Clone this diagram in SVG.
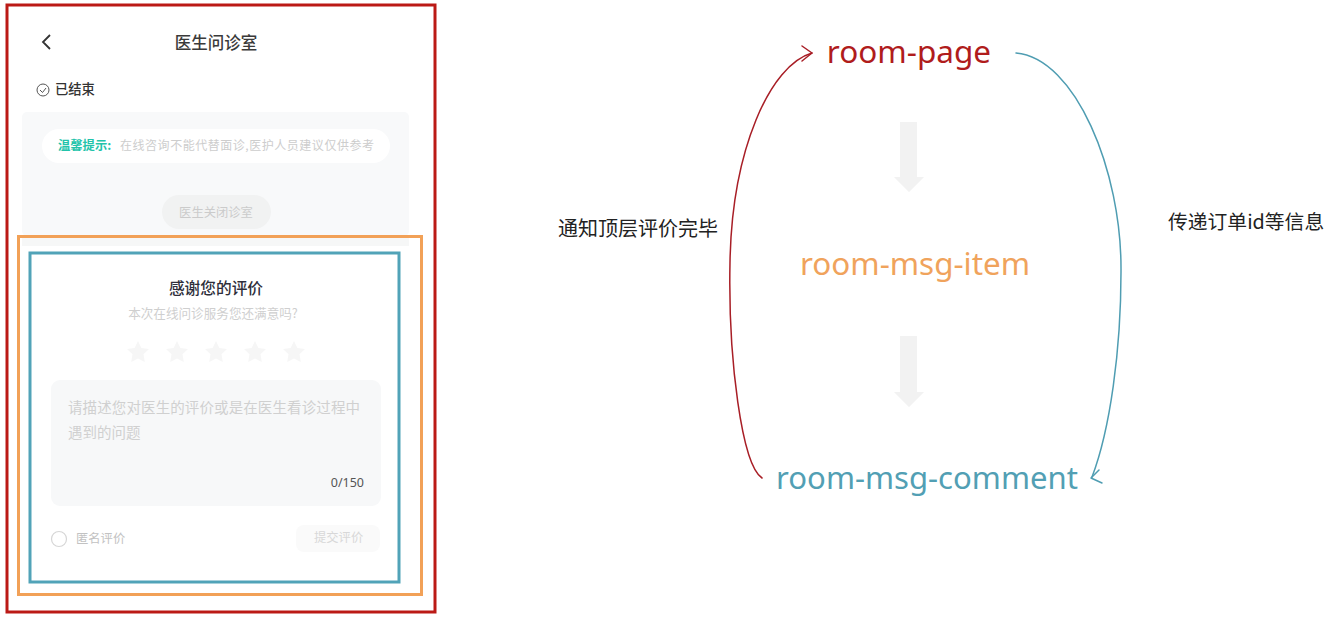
<svg xmlns="http://www.w3.org/2000/svg" width="1337" height="622" viewBox="0 0 1337 622">
<style>
text{font-family:"Noto Sans CJK SC","Noto Sans",sans-serif}
.lat{font-family:"Noto Sans","Noto Sans CJK SC",sans-serif}
.m{text-anchor:middle}
.c{fill:none;stroke-width:1.500;stroke-linecap:round;stroke-linejoin:round}
.g{fill:#f2f2f2}
.st{fill:#f6f6f6}
.s{fill:#f7f8f9}
</style>
<rect width="1337" height="622" fill="#fff"/>
<g id="phone">
<rect x="22" y="112" width="387" height="124" rx="5" fill="#f8f9fa"/>
<rect x="42" y="129" width="348" height="34" rx="17" fill="#fff"/>
<rect x="162" y="195" width="109" height="34" rx="17" fill="#f1f2f2"/>
<rect x="22" y="236" width="387" height="10" fill="#f6f7f7"/>
<path d="M50 35 L43 42 L50 49" fill="none" stroke="#333" stroke-width="1.800"/>
<text x="216" y="48.500" class="m" font-size="16.500" font-weight="500" fill="#3a3a3a">医生问诊室</text>
<circle cx="43" cy="90" r="6" fill="none" stroke="#555" stroke-width="1"/>
<path d="M40 90 L42.500 92.500 L46 88" fill="none" stroke="#555" stroke-width="1"/>
<text x="55" y="94" font-size="13.300" font-weight="500" fill="#333">已结束</text>
<text x="58" y="150" font-size="12.300" font-weight="700" fill="#22c3aa">温馨提示:</text>
<text x="120" y="150" font-size="12" fill="#cdcdcd" textLength="254">在线咨询不能代替面诊,医护人员建议仅供参考</text>
<text x="216" y="217" class="m" font-size="12.300" fill="#cbcbcb">医生关闭诊室</text>
<text x="216" y="293.500" class="m" font-size="15.700" font-weight="500" fill="#2e2e3a">感谢您的评价</text>
<text x="213" y="318" class="m" font-size="12.600" fill="#cfcfcf">本次在线问诊服务您还满意吗?</text>
<g class="st">
<path d="M138 341 l3.400 7 7.600 1 -5.500 5.300 1.300 7.700 -6.800 -3.600 -6.800 3.600 1.300 -7.700 -5.500 -5.300 7.600 -1z"/>
<path d="M177 341 l3.400 7 7.600 1 -5.500 5.300 1.300 7.700 -6.800 -3.600 -6.800 3.600 1.300 -7.700 -5.500 -5.300 7.600 -1z"/>
<path d="M216 341 l3.400 7 7.600 1 -5.500 5.300 1.300 7.700 -6.800 -3.600 -6.800 3.600 1.300 -7.700 -5.500 -5.300 7.600 -1z"/>
<path d="M255 341 l3.400 7 7.600 1 -5.500 5.300 1.300 7.700 -6.800 -3.600 -6.800 3.600 1.300 -7.700 -5.500 -5.300 7.600 -1z"/>
<path d="M294 341 l3.400 7 7.600 1 -5.500 5.300 1.300 7.700 -6.800 -3.600 -6.800 3.600 1.300 -7.700 -5.500 -5.300 7.600 -1z"/>
</g>
<rect x="51" y="380" width="330" height="126" rx="9" class="s"/>
<text x="68" y="413" font-size="14.500" fill="#d0d0d0" textLength="292">请描述您对医生的评价或是在医生看诊过程中</text>
<text x="68" y="438" font-size="14.500" fill="#d0d0d0">遇到的问题</text>
<text x="364" y="487" text-anchor="end" font-size="12.500" class="lat" fill="#555">0/150</text>
<circle cx="59" cy="539" r="7.500" fill="none" stroke="#d6d6d6" stroke-width="1.200"/>
<text x="76" y="543" font-size="12.300" fill="#c2c2c2">匿名评价</text>
<rect x="296" y="525" width="84" height="27" rx="8" fill="#fafafa"/>
<text x="314" y="542" font-size="12.300" fill="#d8d8d8">提交评价</text>
</g>
<g id="frame-room-page"><rect x="7" y="5" width="428" height="607" fill="none" stroke="#bb1a16" stroke-width="3"/></g>
<g id="frame-room-msg-item"><rect x="18.500" y="236.500" width="403" height="358" fill="none" stroke="#f2a157" stroke-width="3"/></g>
<g id="frame-room-msg-comment"><rect x="30" y="253" width="369" height="329" fill="none" stroke="#51a3b8" stroke-width="3"/></g>
<g id="node-room-page"><text x="909" y="63" class="lat m" font-size="31.500" fill="#b01c1c">room-page</text></g>
<g id="node-room-msg-item"><text x="915" y="275" class="lat m" font-size="31.400" fill="#f0a35c">room-msg-item</text></g>
<g id="node-room-msg-comment"><text x="927" y="489" class="lat m" font-size="31.100" fill="#529fb4">room-msg-comment</text></g>
<g id="label-left"><text x="558" y="236" font-size="20" fill="#222">通知顶层评价完毕</text></g>
<g id="label-right"><text x="1168" y="229" font-size="19.800" fill="#222">传递订单id等信息</text></g>
<g id="connectors">
<path class="c" stroke="#a81e26" d="M762 478 C742 465 728 360 730 262 C732 150 770 65 812 53"/>
<path class="c" stroke="#a81e26" d="M802 46 L812 53 L802 61"/>
<path class="c" stroke="#4f9db2" d="M1016 53 C1075 58 1122 170 1121 272 C1121 350 1110 430 1092 477"/>
<path class="c" stroke="#4f9db2" d="M1102 483 L1091 478 L1099 470"/>
<path class="g" d="M900 122 H917 V177 H924 L909 192 L894 177 H900Z"/>
<path class="g" d="M900 336 H917 V392 H924 L909 407 L894 392 H900Z"/>
</g>
</svg>
